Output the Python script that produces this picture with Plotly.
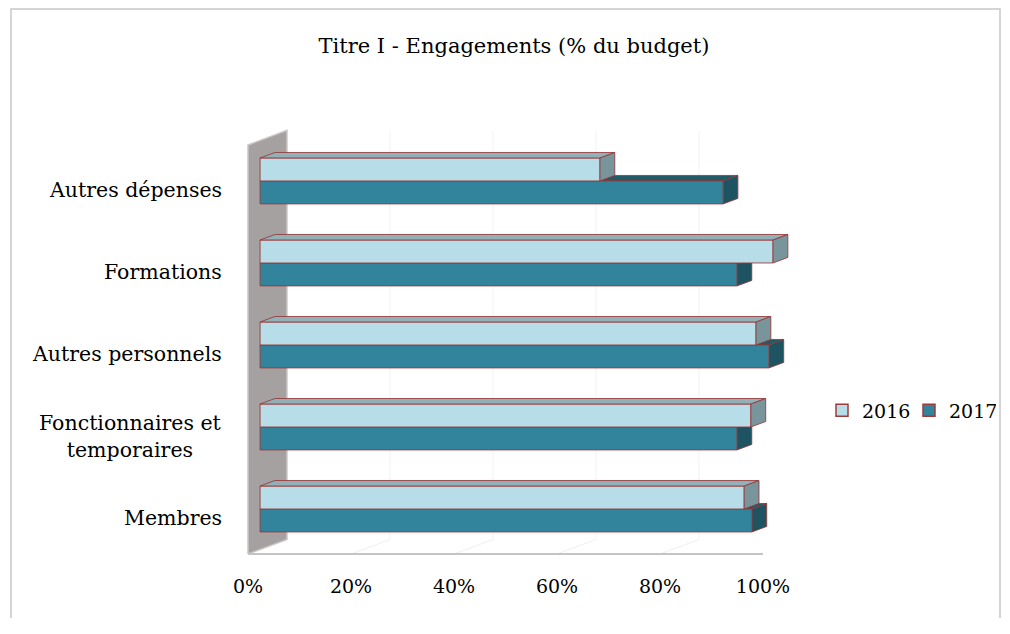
import plotly.graph_objects as go

# ── Data ──────────────────────────────────────────────────────────────────────
categories = ["Membres", "Fonctionnaires et<br>temporaires", "Autres personnels",
              "Formations", "Autres dépenses"]
engag_2016 = [94.0, 95.3, 96.3, 99.6, 66.0]
engag_2017 = [95.5, 92.6, 98.8, 92.6, 89.9]
series_names = ["2016", "2017"]
x_ticks = [0, 20, 40, 60, 80, 100]

# ── Style / fake-3D geometry ─────────────────────────────────────────────────
FONT = "DejaVu Serif"
EDGE = "rgba(150,55,55,0.85)"
FACE = {  # front, top, side
    "2016": ("#B7DEE8", "#91B0B7", "#78959B"),
    "2017": ("#31849B", "#225A68", "#1E5361"),
}
KX, KY = 7.57, 0.177          # oblique offset per unit depth (x in %, y in category units)
Z_FRONT, Z_BACK = 0.31, 0.69  # depth of the bars' front/back faces
BAR_H, BAR_OFF = 0.28, 0.06
FLOOR_Y, WALL_TOP = -0.434, 4.554

# page body has an 8px margin, so figure is shrunk to avoid scrollbars and the
# plot area lands at page x 240..820, y 120..560
PAD = 8
FIG_W, FIG_H = 1010 - 2 * PAD, 634 - 3 * PAD
PLOT_L, PLOT_T, PLOT_W, PLOT_H = 240 - PAD, 120 - PAD, 580, 440


def proj(x, y, z):
    return x + z * KX, y + z * KY


def faces(values, upper):
    """Polygons (None separated) for front, top and side faces of one series."""
    out = {"front": ([], []), "top": ([], []), "side": ([], [])}
    for i, v in enumerate(values):
        lo = i + BAR_OFF if upper else i + BAR_OFF - BAR_H
        hi = lo + BAR_H
        polys = {
            "front": [proj(0, lo, Z_FRONT), proj(v, lo, Z_FRONT), proj(v, hi, Z_FRONT), proj(0, hi, Z_FRONT)],
            "top": [proj(0, hi, Z_FRONT), proj(v, hi, Z_FRONT), proj(v, hi, Z_BACK), proj(0, hi, Z_BACK)],
            "side": [proj(v, lo, Z_FRONT), proj(v, hi, Z_FRONT), proj(v, hi, Z_BACK), proj(v, lo, Z_BACK)],
        }
        for k, pts in polys.items():
            xs, ys = out[k]
            xs.extend([p[0] for p in pts] + [pts[0][0], None])
            ys.extend([p[1] for p in pts] + [pts[0][1], None])
    return out


def poly_trace(xs, ys, fill, line=EDGE, width=1):
    return go.Scatter(x=xs, y=ys, mode="lines", fill="toself", fillcolor=fill,
                      line=dict(color=line, width=width), showlegend=False,
                      hoverinfo="skip")


fig = go.Figure()

# back-wall and floor gridlines (very faint)
for v in x_ticks[1:-1]:
    bx, by0 = proj(v, FLOOR_Y, 1)
    _, by1 = proj(v, WALL_TOP, 1)
    fig.add_trace(go.Scatter(x=[bx, bx], y=[by0, by1], mode="lines",
                             line=dict(color="#F2F2F2", width=1),
                             showlegend=False, hoverinfo="skip"))
    fx, fy = proj(v, FLOOR_Y, 0)
    fig.add_trace(go.Scatter(x=[fx, bx], y=[fy, by0], mode="lines",
                             line=dict(color="#F0F0F0", width=1),
                             showlegend=False, hoverinfo="skip"))

# side wall
wall = [proj(0, FLOOR_Y, 0), proj(0, WALL_TOP, 0), proj(0, WALL_TOP, 1), proj(0, FLOOR_Y, 1)]
fig.add_trace(poly_trace([p[0] for p in wall] + [wall[0][0]],
                         [p[1] for p in wall] + [wall[0][1]],
                         "#A5A1A1", line="#C9C6C6", width=1.5))
# floor front edge
fig.add_trace(go.Scatter(x=[0, 100], y=[FLOOR_Y, FLOOR_Y], mode="lines",
                         line=dict(color="#C4C4C4", width=2),
                         showlegend=False, hoverinfo="skip"))

f16 = faces(engag_2016, upper=True)
f17 = faces(engag_2017, upper=False)
for key, k in (("top", 1), ("side", 2), ("front", 0)):
    fig.add_trace(poly_trace(*f17[key], FACE["2017"][k]))
for key, k in (("front", 0), ("top", 1), ("side", 2)):
    fig.add_trace(poly_trace(*f16[key], FACE["2016"][k]))

# legend entries
for name in series_names:
    fig.add_trace(go.Scatter(
        x=[None], y=[None], mode="markers", name=name,
        marker=dict(symbol="square", size=12, color=FACE[name][0],
                    line=dict(color="#9B3B3B", width=1.5)),
    ))

# category labels
for i, lab in enumerate(categories):
    fig.add_annotation(x=(224 - 240) / PLOT_W, xref="paper", y=i, yref="y", text=lab,
                       xanchor="right", yanchor="middle", align="center",
                       showarrow=False, font=dict(family=FONT, size=20.5, color="#000"))

# chart border (top and right edges as far as the page allows)
fig.add_shape(type="rect", xref="paper", yref="paper",
              x0=(11 - 240) / PLOT_W, x1=(PAD + FIG_W - 2 - 240) / PLOT_W,
              y0=-0.5, y1=(560 - (PAD + 1)) / PLOT_H,
              line=dict(color="#C8C8C8", width=1.5), layer="below")

fig.update_layout(
    width=FIG_W, height=FIG_H,
    margin=dict(l=PLOT_L, r=FIG_W - PLOT_L - PLOT_W, t=PLOT_T,
                b=FIG_H - PLOT_T - PLOT_H, autoexpand=False),
    plot_bgcolor="white", paper_bgcolor="white",
    font=dict(family=FONT, size=19, color="#000"),
    title=dict(text="Titre I - Engagements (% du budget)", x=(514 - PAD) / FIG_W,
               xref="container", y=1 - (46 - PAD) / FIG_H, yref="container",
               xanchor="center", yanchor="middle",
               font=dict(family=FONT, size=21, color="#000")),
    showlegend=True,
    legend=dict(orientation="h", x=(822 - 240) / PLOT_W, xanchor="left", y=0.34,
                yanchor="middle", font=dict(family=FONT, size=19), itemwidth=30,
                entrywidth=42, entrywidthmode="pixels",
                bgcolor="rgba(0,0,0,0)", tracegroupgap=0),
    xaxis=dict(range=[-1.553, 111.07], tickvals=x_ticks,
               ticktext=[f"{v}%" for v in x_ticks],
               showgrid=False, zeroline=False, showline=False,
               ticks="outside", ticklen=9, tickcolor="rgba(0,0,0,0)"),
    yaxis=dict(range=[-0.507, 4.858], showticklabels=False, showgrid=False,
               zeroline=False, showline=False),
)

fig.write_html("out.html")
